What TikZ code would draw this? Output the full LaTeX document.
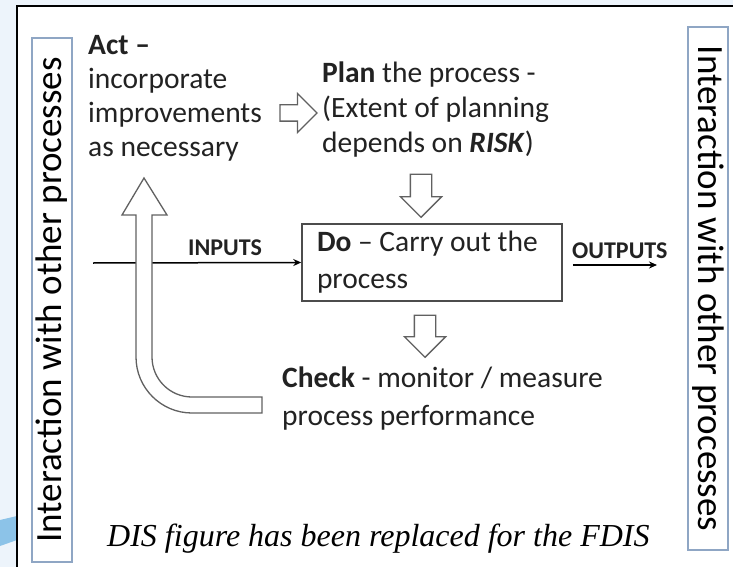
\documentclass[tikz,border=0pt]{standalone}
\usepackage{fontspec}
\setmainfont{Carlito}
\newfontfamily\capfont{Liberation Serif}
\usetikzlibrary{shapes.arrows,arrows.meta}

\definecolor{bgblue}{HTML}{EDF4FB}
\definecolor{swoosh}{HTML}{8CC3E8}
\definecolor{sidecol}{HTML}{8FA6C4}
\definecolor{txtcol}{HTML}{222222}

\tikzset{
  txt/.style={anchor=base west, inner sep=0pt, align=left, text=txtcol,
    font=\fontsize{29.5}{35}\selectfont},
  small txt/.style={anchor=base west, inner sep=0pt, text=txtcol,
    font=\bfseries\fontsize{24}{26}\selectfont},
  hollow arrow/.style={single arrow, draw=black!62, fill=white, line width=1.3pt,
    inner xsep=0pt, inner ysep=10pt, single arrow head extend=10pt},
  side box/.style={draw=sidecol, line width=1.2pt, inner sep=0pt,
    minimum height=40pt, text=black, font=\fontsize{37}{40}\selectfont}
}

\begin{document}
\begin{tikzpicture}[x=1pt,y=-1pt]
  \useasboundingbox (0,0) rectangle (733,567);
  % background and frame
  \fill[bgblue] (0,0) rectangle (733,567);
  \fill[swoosh] (0,520) .. controls (8,518) .. (17,516) -- (17,540)
    .. controls (8,543) .. (0,546) -- cycle;
  \fill[white] (17,6) rectangle (733,567);
  \draw[line width=1.5pt] (17,567) -- (17,6) -- (733,6);

  % side boxes
  \node[side box, minimum width=524pt, rotate=90] (leftbox) at (52,300)
    {Interaction with other processes};
  \node[side box, minimum width=523pt, rotate=-90] (rightbox) at (708,288.5)
    {Interaction with other processes};

  % text blocks (base = last line)
  \node[txt, font=\fontsize{29.5}{34}\selectfont] (act) at (88,157)
    {\textbf{Act --}\\incorporate\\improvements\\as necessary};
  \node[txt] (plan) at (322,152)
    {\textbf{Plan} the process -\\(Extent of planning\\depends on \textbf{\textit{RISK}})};
  \node[draw=black!70, line width=1.5pt, minimum width=260pt, minimum height=77pt,
    text width=230pt, align=flush left, inner sep=0pt, text=txtcol,
    font=\fontsize{29.5}{37}\selectfont] (do) at (432,262.5)
    {\textbf{Do} -- Carry out the\\process};
  \node[txt, font=\fontsize{29.5}{38}\selectfont] (check) at (282,425)
    {\textbf{Check} - monitor / measure\\process performance};

  % inputs and outputs
  \coordinate (inp) at (93,263);
  \coordinate (outp) at (657,265);
  \draw[line width=1.5pt, -{Stealth[length=8pt,width=7pt]}] (inp) -- (do.west);
  \node[small txt] (inputs) at (188,255) {INPUTS};
  \draw[line width=1.5pt, -{Stealth[length=8pt,width=7pt]}] ([xshift=10pt]do.east |- outp) -- (outp);
  \node[small txt] (outputs) at (572,258) {OUTPUTS};

  % hollow arrows
  \node[hollow arrow, minimum height=37pt, inner ysep=7.5pt,
    single arrow head extend=11.5pt] (actplan) at (294.5,113) {};
  \node[hollow arrow, minimum height=43pt, rotate=-90] (plando) at (421,190.5) {};
  \node[hollow arrow, minimum height=42pt, rotate=-90] (docheck) at (425,331) {};

  % check back to act
  \draw[draw=black!62, fill=white, line width=1.3pt]
    (144,178) -- (167,215) -- (152,215) -- (152,357)
    arc[start angle=180, end angle=90, radius=40] -- (262,397) -- (262,413)
    -- (192,413) arc[start angle=90, end angle=180, radius=56]
    -- (136,215) -- (122,215) -- cycle;

  % note
  \node[anchor=base west, inner sep=0pt, font=\capfont\itshape\fontsize{32}{34}\selectfont]
    (caption) at (107,546) {DIS figure has been replaced for the FDIS};
\end{tikzpicture}
\end{document}
